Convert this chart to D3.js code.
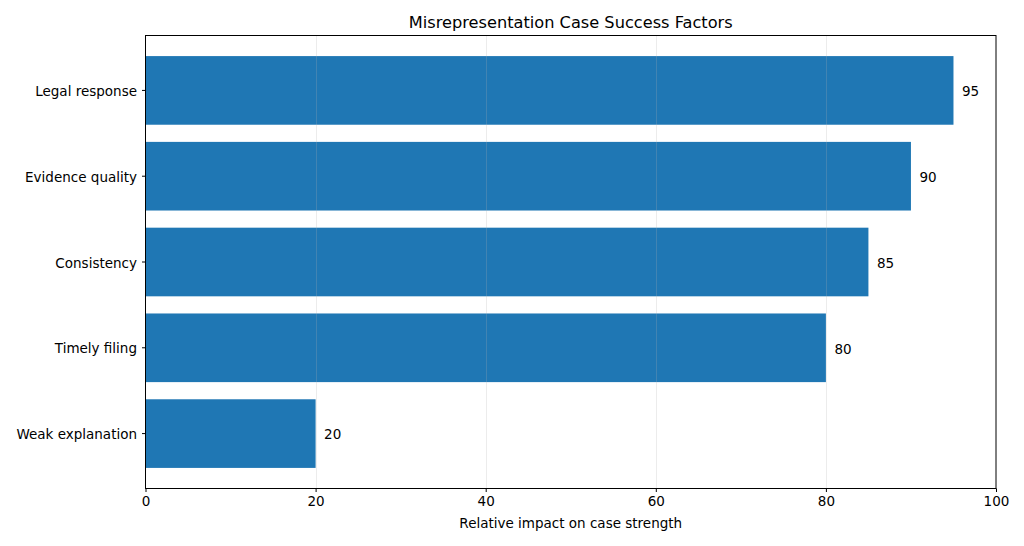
<!DOCTYPE html>
<html><head><meta charset="utf-8">
<script src="https://cdn.jsdelivr.net/npm/d3@7"></script>
<style>body{margin:0;background:#fff;} text{font-family:"DejaVu Sans",sans-serif;}</style>
</head><body><svg id="c" width="1024" height="546"></svg>
<script>
const categories = ["Legal response","Evidence quality","Consistency","Timely filing","Weak explanation"];
const values = [95,90,85,80,20];
const xTicks = [0,20,40,60,80,100];
const title = "Misrepresentation Case Success Factors";
const xLabel = "Relative impact on case strength";

const svg = d3.select("#c");
const L=145.5, R=996, T=35.5, B=488.5;
const FS = 13.5;
const x = d3.scaleLinear().domain([0,100]).range([L,R]);
const y = d3.scaleBand().domain(categories).range([T,B]).paddingInner(0.2).paddingOuter(0.24);
svg.append("g").selectAll("rect").data(values).join("rect")
  .attr("x",x(0)).attr("y",(d,i)=>y(categories[i]))
  .attr("width",d=>x(d)-x(0)).attr("height",y.bandwidth()).attr("fill","#1f77b4");
// grid
svg.append("g").selectAll("line").data(xTicks.filter(t=>t>0&&t<100)).join("line")
  .attr("x1",d=>Math.round(x(d))+0.5).attr("x2",d=>Math.round(x(d))+0.5).attr("y1",T).attr("y2",B)
  .attr("stroke","#b0b0b0").attr("stroke-opacity",0.3).attr("stroke-width",0.8);
// value labels
svg.append("g").selectAll("text").data(values).join("text")
  .attr("x",d=>x(d)+8.5).attr("y",(d,i)=>y(categories[i])+y.bandwidth()/2+1)
  .attr("dy","0.35em").attr("font-size",FS).attr("fill","#000").text(d=>d);
// frame
svg.append("rect").attr("x",L).attr("y",T).attr("width",R-L).attr("height",B-T)
  .attr("fill","none").attr("stroke","#000").attr("stroke-width",1);
// x axis
const xa = svg.append("g").attr("transform",`translate(0,${B})`)
  .call(d3.axisBottom(x).tickValues(xTicks).tickSize(3.5).tickPadding(4.5).tickFormat(d3.format("d")));
xa.select(".domain").remove();
xa.selectAll("text").attr("font-size",FS).attr("fill","#000").style("font-family","DejaVu Sans");
xa.selectAll("line").attr("stroke","#000");
// y axis
const ya = svg.append("g").attr("transform",`translate(${L},0)`)
  .call(d3.axisLeft(y).tickSize(3.5).tickPadding(5));
ya.select(".domain").remove();
ya.selectAll("text").attr("font-size",FS).attr("fill","#000").attr("dy","0.42em").style("font-family","DejaVu Sans");
ya.selectAll("line").attr("stroke","#000");
svg.append("text").attr("x",(L+R)/2).attr("y",B+39).attr("text-anchor","middle").attr("font-size",FS).text(xLabel);
svg.append("text").attr("x",(L+R)/2).attr("y",T-7.5).attr("text-anchor","middle").attr("font-size",16.2).text(title);
</script></body></html>
